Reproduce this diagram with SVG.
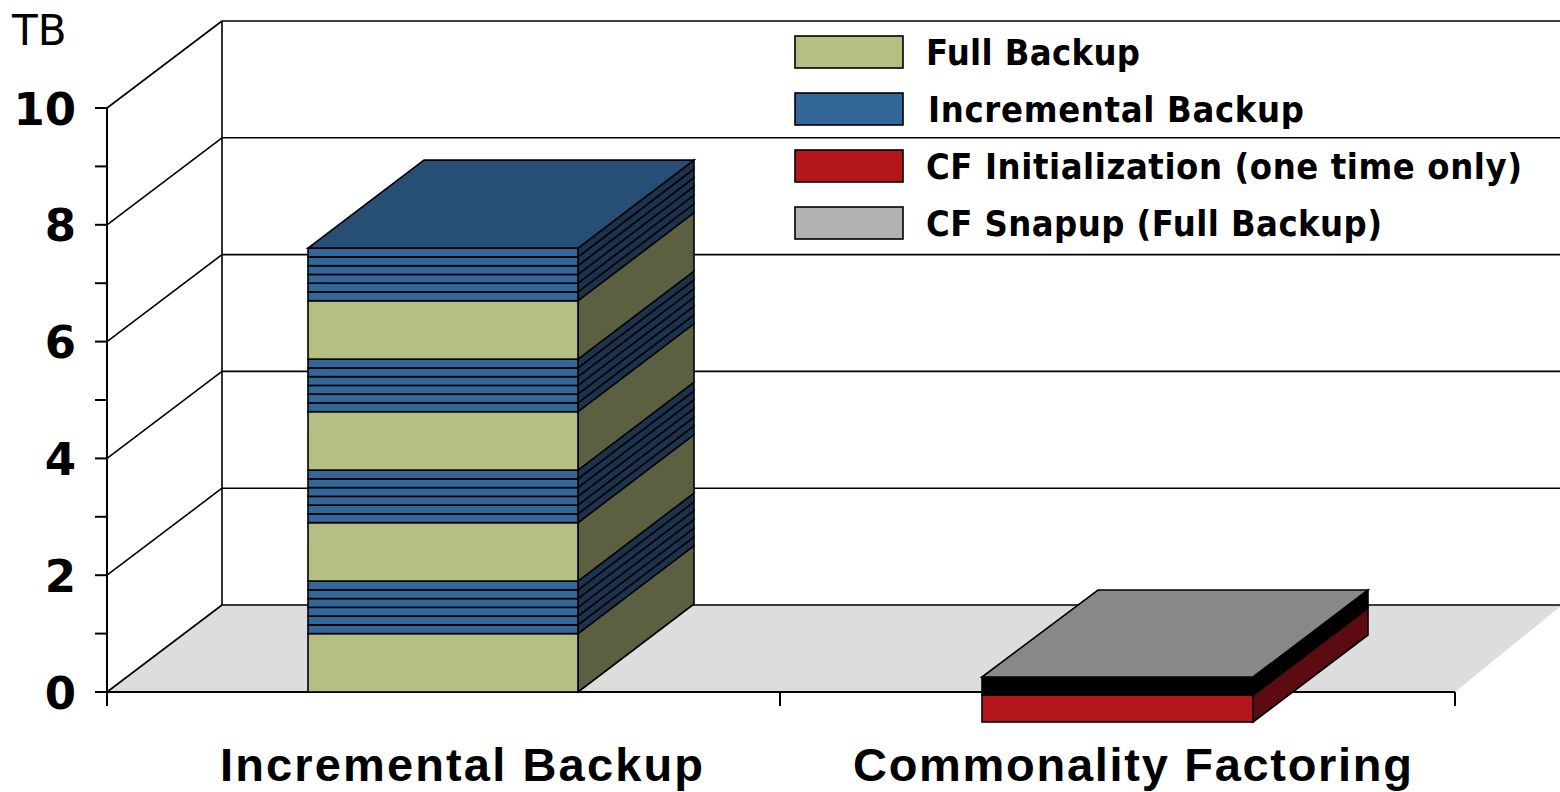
<svg xmlns="http://www.w3.org/2000/svg" xmlns:xlink="http://www.w3.org/1999/xlink" width="1560" height="792" viewBox="0 0 1560 792">
  <style>
    .grid { stroke: #000; stroke-width: 1.6; fill: none; }
    .axis { stroke: #000; stroke-width: 2; fill: none; }
    .edge { stroke: #000; stroke-width: 1.6; stroke-linejoin: miter; }
    .full-front { fill: #B5BF84; }
    .full-side { fill: #5B6140; }
    .inc-front { fill: #336699; }
    .inc-side { fill: #1B334F; }
    .inc-top { fill: #274F75; }
    .cf-front { fill: #B5161B; }
    .cf-side { fill: #5C0C10; }
    .snap-top { fill: #888888; }
    .snap-front { fill: #000000; }
    .tick-label { font-family: "DejaVu Sans", Verdana, sans-serif; font-weight: bold; font-size: 45px; fill: #000; text-anchor: end; }
    .unit-label { font-family: "DejaVu Sans", Verdana, sans-serif; font-size: 42px; fill: #000; }
    .legend-label { font-family: "DejaVu Sans Condensed", "DejaVu Sans", Verdana, sans-serif; font-stretch: condensed; font-weight: bold; font-size: 36px; fill: #000; }
    .cat-label { font-family: "Liberation Sans", Arial, sans-serif; font-weight: bold; font-size: 47px; fill: #000; }
  </style>
  <defs>
    <!-- one full-backup slab (1 TB), drawn upward from y=0 -->
    <g id="fullLayer">
      <polygon class="full-side edge" points="578,0 694,-88 694,-146.4 578,-58.4"/>
      <rect class="full-front edge" x="308" y="-58.4" width="270" height="58.4"/>
    </g>
    <!-- one incremental slab (0.15 TB) -->
    <g id="incLayer">
      <polygon class="inc-side edge" points="578,0 694,-88 694,-96.76 578,-8.76"/>
      <rect class="inc-front edge" x="308" y="-8.76" width="270" height="8.76"/>
    </g>
    <!-- six incrementals between two full backups -->
    <g id="incGroup">
      <use xlink:href="#incLayer" y="0"/>
      <use xlink:href="#incLayer" y="-8.76"/>
      <use xlink:href="#incLayer" y="-17.52"/>
      <use xlink:href="#incLayer" y="-26.28"/>
      <use xlink:href="#incLayer" y="-35.04"/>
      <use xlink:href="#incLayer" y="-43.8"/>
    </g>
  </defs>

  <rect x="0" y="0" width="1560" height="792" fill="#fff"/>

  <!-- chart frame: floor, walls, gridlines -->
  <g id="frame">
    <polygon points="107,692 222,605 1562,605 1455,692" fill="#DDDDDD"/>
    <!-- back wall gridlines -->
    <line class="grid" x1="222" y1="21" x2="1560" y2="21"/>
    <line class="grid" x1="222" y1="137.8" x2="1560" y2="137.8"/>
    <line class="grid" x1="222" y1="254.6" x2="1560" y2="254.6"/>
    <line class="grid" x1="222" y1="371.4" x2="1560" y2="371.4"/>
    <line class="grid" x1="222" y1="488.2" x2="1560" y2="488.2"/>
    <line class="grid" x1="222" y1="605" x2="1560" y2="605"/>
    <line class="grid" x1="222" y1="21" x2="222" y2="605"/>
    <!-- side wall gridlines -->
    <line class="grid" x1="107" y1="108" x2="222" y2="21"/>
    <line class="grid" x1="107" y1="224.8" x2="222" y2="137.8"/>
    <line class="grid" x1="107" y1="341.6" x2="222" y2="254.6"/>
    <line class="grid" x1="107" y1="458.4" x2="222" y2="371.4"/>
    <line class="grid" x1="107" y1="575.2" x2="222" y2="488.2"/>
    <line class="grid" x1="107" y1="692" x2="222" y2="605"/>
  </g>

  <!-- axes and ticks -->
  <g id="axes">
    <line class="axis" x1="107" y1="108" x2="107" y2="706"/>
    <line class="axis" x1="107" y1="692" x2="1455" y2="692"/>
    <line class="axis" x1="780" y1="692" x2="780" y2="706"/>
    <line class="axis" x1="1455" y1="692" x2="1455" y2="706"/>
    <g class="axis">
      <line x1="95" y1="108" x2="107" y2="108"/>
      <line x1="95" y1="166.4" x2="107" y2="166.4"/>
      <line x1="95" y1="224.8" x2="107" y2="224.8"/>
      <line x1="95" y1="283.2" x2="107" y2="283.2"/>
      <line x1="95" y1="341.6" x2="107" y2="341.6"/>
      <line x1="95" y1="400" x2="107" y2="400"/>
      <line x1="95" y1="458.4" x2="107" y2="458.4"/>
      <line x1="95" y1="516.8" x2="107" y2="516.8"/>
      <line x1="95" y1="575.2" x2="107" y2="575.2"/>
      <line x1="95" y1="633.6" x2="107" y2="633.6"/>
      <line x1="95" y1="692" x2="107" y2="692"/>
    </g>
    <text class="unit-label" x="12" y="45">TB</text>
    <text class="tick-label" x="76" y="124.5">10</text>
    <text class="tick-label" x="76" y="241.3">8</text>
    <text class="tick-label" x="76" y="358.1">6</text>
    <text class="tick-label" x="76" y="474.9">4</text>
    <text class="tick-label" x="76" y="591.7">2</text>
    <text class="tick-label" x="76" y="708.5">0</text>
  </g>

  <!-- stacked bar: full + incremental backups -->
  <g id="bar-incremental">
    <use xlink:href="#fullLayer" y="692"/>
    <use xlink:href="#incGroup" y="633.6"/>
    <use xlink:href="#fullLayer" y="581.04"/>
    <use xlink:href="#incGroup" y="522.64"/>
    <use xlink:href="#fullLayer" y="470.08"/>
    <use xlink:href="#incGroup" y="411.68"/>
    <use xlink:href="#fullLayer" y="359.12"/>
    <use xlink:href="#incGroup" y="300.72"/>
    <polygon class="inc-top edge" points="308,248.16 424,160.16 694,160.16 578,248.16"/>
  </g>

  <!-- stacked bar: commonality factoring -->
  <g id="bar-cf">
    <polygon class="cf-side edge" points="1253,722 1368,635 1368,608 1253,695"/>
    <rect class="cf-front edge" x="982" y="695" width="271" height="27"/>
    <polygon class="snap-front edge" points="1253,695 1368,608 1368,590 1253,677"/>
    <rect class="snap-front edge" x="982" y="677" width="271" height="18"/>
    <polygon class="snap-top edge" points="982,677 1098,590 1368,590 1253,677"/>
  </g>

  <!-- legend -->
  <g id="legend">
    <rect class="full-front edge" x="795" y="36" width="108" height="32"/>
    <text class="legend-label" x="926" y="65" textLength="214">Full Backup</text>
    <rect class="inc-front edge" x="795" y="93" width="108" height="32"/>
    <text class="legend-label" x="928" y="122" textLength="376">Incremental Backup</text>
    <rect class="cf-front edge" x="795" y="150" width="108" height="32"/>
    <text class="legend-label" x="926" y="179" textLength="596">CF Initialization (one time only)</text>
    <rect class="edge" fill="#B2B2B2" x="795" y="207" width="108" height="32"/>
    <text class="legend-label" x="926" y="236" textLength="456">CF Snapup (Full Backup)</text>
  </g>

  <!-- category labels -->
  <g id="categories">
    <text class="cat-label" x="220" y="781" textLength="483">Incremental Backup</text>
    <text class="cat-label" x="853" y="781" textLength="559">Commonality Factoring</text>
  </g>
</svg>
